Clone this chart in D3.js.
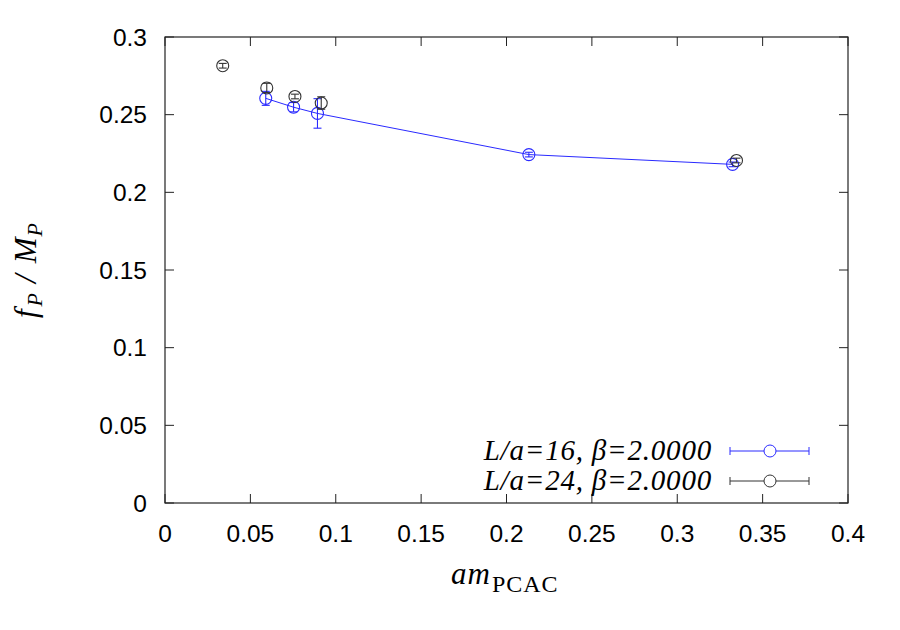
<!DOCTYPE html>
<html><head><meta charset="utf-8">
<script src="https://cdnjs.cloudflare.com/ajax/libs/d3/7.8.5/d3.min.js"></script>
<style>body{margin:0;background:#fff}</style>
</head><body>
<svg id="c" width="900" height="630"></svg>
<script>
const xTicks = [0,0.05,0.1,0.15,0.2,0.25,0.3,0.35,0.4];
const yTicks = [0,0.05,0.1,0.15,0.2,0.25,0.3];
const s16x = [0.059,0.0753,0.0893,0.2131,0.3324];
const s16y = [0.2605,0.2548,0.2508,0.2243,0.2180];
const s16e = [0.0045,0.003,0.0095,0.0015,0.0015];
const s24x = [0.0338,0.0596,0.0761,0.0915,0.3347];
const s24y = [0.2815,0.2672,0.2617,0.2575,0.2205];
const s24e = [0.0015,0.003,0.0015,0.004,0.0015];
const seriesNames = ["L/a=16, \u03B2=2.0000","L/a=24, \u03B2=2.0000"];
const colors = ["#2a2aff","#333333"];

const svg = d3.select("#c");
const L=165,R=848,T=37,B=503;
const x = d3.scaleLinear().domain([0,0.4]).range([L,R]);
const y = d3.scaleLinear().domain([0,0.3]).range([B,T]);

svg.append("rect").attr("x",L).attr("y",T).attr("width",R-L).attr("height",B-T)
  .attr("fill","none").attr("stroke","#222").attr("stroke-width",1.2);
const tl=9;
const g=svg.append("g");
const sans="Liberation Sans, Arial, Helvetica, sans-serif";
const serif="Liberation Serif, Times New Roman, serif";
xTicks.forEach(t=>{
  g.append("line").attr("x1",x(t)).attr("x2",x(t)).attr("y1",B).attr("y2",B-tl).attr("stroke","#222");
  g.append("line").attr("x1",x(t)).attr("x2",x(t)).attr("y1",T).attr("y2",T+tl).attr("stroke","#222");
  g.append("text").attr("x",x(t)).attr("y",542).attr("text-anchor","middle")
   .attr("font-family",sans).attr("font-size",24.5).text(t);
});
yTicks.forEach(t=>{
  g.append("line").attr("x1",L).attr("x2",L+tl).attr("y1",y(t)).attr("y2",y(t)).attr("stroke","#222");
  g.append("line").attr("x1",R).attr("x2",R-tl).attr("y1",y(t)).attr("y2",y(t)).attr("stroke","#222");
  g.append("text").attr("x",L-18).attr("y",y(t)+8.5).attr("text-anchor","end")
   .attr("font-family",sans).attr("font-size",24.5).text(t);
});

const xl = svg.append("text").attr("x",451).attr("y",584).attr("text-anchor","start")
  .attr("font-family",serif).attr("font-size",31);
xl.append("tspan").attr("font-style","italic").attr("letter-spacing",1).text("am");
xl.append("tspan").attr("font-size",24).attr("dy",8).attr("dx",1).attr("letter-spacing",1).text("PCAC");

const yl = svg.append("text").attr("transform","translate(36,318) rotate(-90)").attr("text-anchor","start")
  .attr("font-family",serif).attr("font-size",31).attr("font-style","italic");
yl.append("tspan").text("f");
yl.append("tspan").attr("font-size",22).attr("dy",6).attr("dx",3).text("P");
yl.append("tspan").attr("dy",-6).attr("dx",10).text("/");
yl.append("tspan").attr("dx",11).text("M");
yl.append("tspan").attr("font-size",22).attr("dy",6).attr("dx",1).text("P");

function drawSeries(xs,ys,es,col,line){
  const pts = xs.map((v,i)=>({x:v,y:ys[i],e:es[i]}));
  if(line){
    svg.append("path").datum(pts).attr("fill","none").attr("stroke",col).attr("stroke-width",1)
      .attr("d",d3.line().x(d=>x(d.x)).y(d=>y(d.y)));
  }
  const gg=svg.append("g").attr("stroke",col).attr("fill","none").attr("stroke-width",1.1);
  pts.forEach(d=>{
    gg.append("line").attr("x1",x(d.x)).attr("x2",x(d.x)).attr("y1",y(d.y-d.e)).attr("y2",y(d.y+d.e));
    gg.append("line").attr("x1",x(d.x)-4).attr("x2",x(d.x)+4).attr("y1",y(d.y-d.e)).attr("y2",y(d.y-d.e));
    gg.append("line").attr("x1",x(d.x)-4).attr("x2",x(d.x)+4).attr("y1",y(d.y+d.e)).attr("y2",y(d.y+d.e));
    gg.append("circle").attr("cx",x(d.x)).attr("cy",y(d.y)).attr("r",6);
  });
}
drawSeries(s16x,s16y,s16e,colors[0],true);
drawSeries(s24x,s24y,s24e,colors[1],false);

const ly=[451,481];
seriesNames.forEach((n,i)=>{
  svg.append("text").attr("x",712).attr("y",ly[i]+9).attr("text-anchor","end")
    .attr("font-family",serif).attr("font-size",29).attr("font-style","italic")
    .attr("letter-spacing",0.8).text(n);
  const lg=svg.append("g").attr("stroke",colors[i]).attr("fill","none");
  lg.append("line").attr("x1",730).attr("x2",809).attr("y1",ly[i]).attr("y2",ly[i]);
  lg.append("line").attr("x1",730).attr("x2",730).attr("y1",ly[i]-4).attr("y2",ly[i]+4);
  lg.append("line").attr("x1",809).attr("x2",809).attr("y1",ly[i]-4).attr("y2",ly[i]+4);
  lg.append("circle").attr("cx",770).attr("cy",ly[i]).attr("r",6).attr("fill","#fff");
});
</script>
</body></html>
